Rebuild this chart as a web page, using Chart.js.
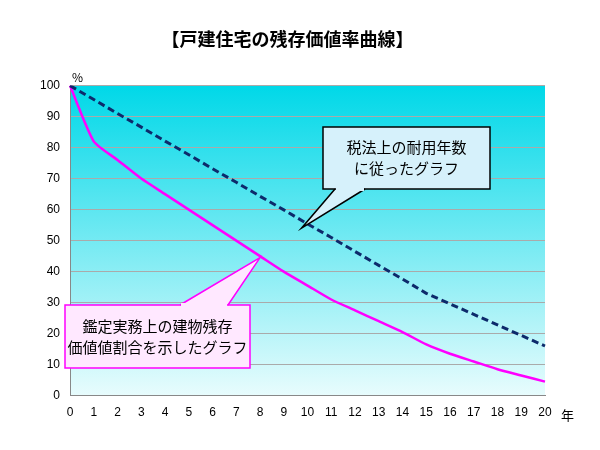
<!DOCTYPE html>
<html><head><meta charset="utf-8">
<script src="https://cdn.jsdelivr.net/npm/chart.js@4"></script>
<style>body{margin:0;background:#fff}#w{width:600px;height:450px}</style>
</head><body><div id="w"><canvas id="c"></canvas></div>
<script>
var years = ['0','1','2','3','4','5','6','7','8','9','10','11','12','13','14','15','16','17','18','19','20'];
var taxLine = [100,95.5,91,86.6,82.1,77.7,73.2,68.8,64.3,59.9,55.4,51,46.5,42,37.6,33,29.6,26.2,22.8,19.4,16];
var appraisalLine = [100,82,76,70,65,60,55,50,45,40,35.5,31,27.5,24,20.5,16.5,13.5,11,8.5,6.5,4.5];
var title = '【戸建住宅の残存価値率曲線】';

var calloutPlugin = {
    id: 'callouts',
    beforeDraw: function(chart) {
        var a = chart.chartArea, ctx = chart.ctx;
        var g = ctx.createLinearGradient(0, a.top, 0, a.bottom);
        g.addColorStop(0, '#00d8e8');
        g.addColorStop(1, '#e8fcfd');
        ctx.save();
        ctx.fillStyle = g;
        ctx.fillRect(a.left, a.top, a.right - a.left, a.bottom - a.top);
        ctx.restore();
    },
    afterDraw: function(chart) {
        var ctx = chart.ctx, x = chart.scales.x, y = chart.scales.y;
        function box(bx, by, bw, bh, tip, base1, base2, fill, stroke, lines) {
            ctx.save();
            ctx.beginPath();
            ctx.moveTo(base1[0], base1[1]);
            ctx.lineTo(tip[0], tip[1]);
            ctx.lineTo(base2[0], base2[1]);
            ctx.fillStyle = fill; ctx.strokeStyle = stroke; ctx.lineWidth = 1.5;
            ctx.fillRect(bx, by, bw, bh);
            ctx.fill(); ctx.stroke();
            ctx.strokeRect(bx, by, bw, bh);
            ctx.fillRect(base1[0] + 1, base1[1] - 2, base2[0] - base1[0] - 2, 4);
            ctx.fillStyle = '#000';
            ctx.font = '15px "Noto Sans CJK JP"';
            ctx.textAlign = 'center'; ctx.textBaseline = 'middle';
            for (var i = 0; i < lines.length; i++) ctx.fillText(lines[i], bx + bw / 2, by + bh / 2 + (i - (lines.length - 1) / 2) * 21);
            ctx.restore();
        }
        box(323, 127, 167, 62, [x.getPixelForValue(10) - 6, y.getPixelForValue(54)], [335, 189], [365, 189],
            '#d6f1fb', '#000', ['税法上の耐用年数', 'に従ったグラフ']);
        box(65, 305, 185, 63, [x.getPixelForValue(8), y.getPixelForValue(44.5)], [180, 305], [228, 305],
            '#ffe8ff', '#ff00ff', ['鑑定実務上の建物残存', '価値値割合を示したグラフ']);
        ctx.save();
        ctx.font = '12px "Noto Sans CJK JP"'; ctx.fillStyle = '#000';
        ctx.fillText('%', chart.chartArea.left + 2, chart.chartArea.top - 4);
        ctx.font = '13px "Noto Sans CJK JP"';
        ctx.fillText('年', chart.chartArea.right + 16, chart.chartArea.bottom + 24);
        ctx.restore();
    }
};

new Chart(document.getElementById('c'), {
    type: 'line',
    data: {
        labels: years,
        datasets: [{
            data: taxLine, borderColor: '#0d2a6b', borderWidth: 3, borderDash: [7, 4],
            pointRadius: 0, tension: 0
        }, {
            data: appraisalLine, borderColor: '#ff00ff', borderWidth: 2.5,
            pointRadius: 0, tension: 0.2
        }]
    },
    options: {
        responsive: true, maintainAspectRatio: false, animation: false,
        layout: { padding: { left: 30, right: 55, top: 10, bottom: 28 } },
        plugins: {
            legend: { display: false }, tooltip: { enabled: false },
            title: { display: true, text: title, color: '#000', font: { family: '"Noto Sans CJK JP"', size: 18, weight: 'bold' }, padding: { top: 18, bottom: 36 } }
        },
        scales: {
            x: { offset: false, grid: { display: false }, border: { color: '#888' },
                 ticks: { color: '#000', font: { size: 12 }, padding: 2 } },
            y: { min: 0, max: 100, border: { color: '#888' },
                 grid: { color: '#aaa', drawTicks: false },
                 ticks: { stepSize: 10, color: '#000', font: { size: 12 }, padding: 10 } }
        }
    },
    plugins: [calloutPlugin]
});
</script></body></html>
